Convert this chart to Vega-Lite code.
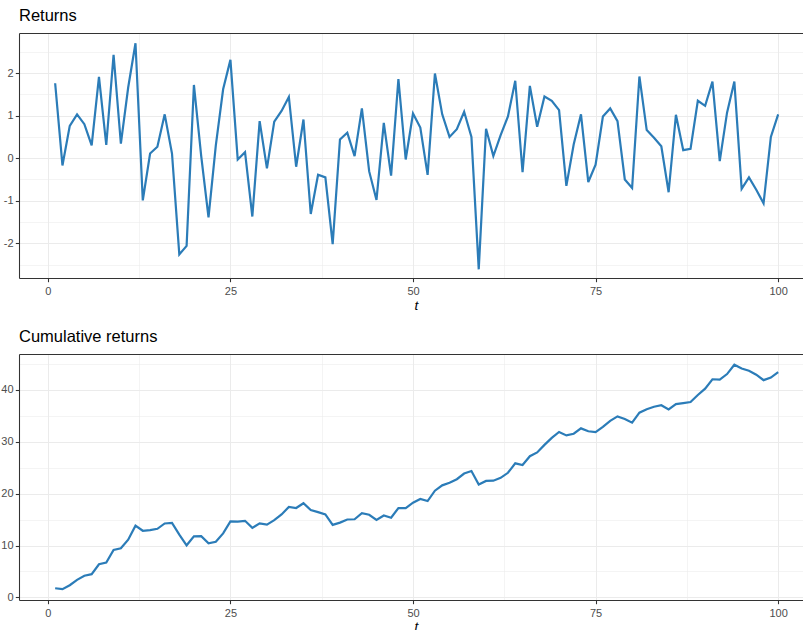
{
  "$schema": "https://vega.github.io/schema/vega-lite/v6.json",
  "padding": {"left": 0, "top": 7, "right": 0, "bottom": 0},
  "spacing": 15,
  "config": {
    "font": "Liberation Sans",
    "view": {"stroke": null},
    "axis": {
      "labelFont": "Liberation Sans",
      "labelFontSize": 11,
      "labelColor": "#4D4D4D",
      "tickColor": "#333333",
      "tickSize": 3.7,
      "tickWidth": 1.07,
      "labelPadding": 2.2,
      "domainColor": "#333333",
      "domainWidth": 1.07,
      "gridColor": "#EBEBEB",
      "labelOverlap": false,
      "labelFlush": false,
      "labelBound": false,
      "titleFont": "Liberation Sans",
      "titleFontSize": 13.7,
      "titleFontWeight": "normal",
      "titleColor": "#000000"
    },
    "title": {"anchor": "start", "frame": "group", "fontSize": 16.5, "fontWeight": "normal", "color": "#000000", "font": "Liberation Sans", "baseline": "alphabetic", "offset": 9}
  },
  "datasets": {
    "d": [
      {"t": 1, "r": 1.76, "cum": 1.76}, {"t": 2, "r": -0.17, "cum": 1.59}, {"t": 3, "r": 0.76, "cum": 2.35}, {"t": 4, "r": 1.03, "cum": 3.38}, {"t": 5, "r": 0.80, "cum": 4.18},
      {"t": 6, "r": 0.30, "cum": 4.48}, {"t": 7, "r": 1.91, "cum": 6.39}, {"t": 8, "r": 0.31, "cum": 6.70}, {"t": 9, "r": 2.43, "cum": 9.13}, {"t": 10, "r": 0.34, "cum": 9.47},
      {"t": 11, "r": 1.66, "cum": 11.13}, {"t": 12, "r": 2.70, "cum": 13.83}, {"t": 13, "r": -0.99, "cum": 12.84}, {"t": 14, "r": 0.11, "cum": 12.95}, {"t": 15, "r": 0.27, "cum": 13.22},
      {"t": 16, "r": 1.03, "cum": 14.25}, {"t": 17, "r": 0.11, "cum": 14.36}, {"t": 18, "r": -2.26, "cum": 12.10}, {"t": 19, "r": -2.06, "cum": 10.04}, {"t": 20, "r": 1.72, "cum": 11.76},
      {"t": 21, "r": 0.05, "cum": 11.81}, {"t": 22, "r": -1.39, "cum": 10.42}, {"t": 23, "r": 0.30, "cum": 10.72}, {"t": 24, "r": 1.62, "cum": 12.34}, {"t": 25, "r": 2.31, "cum": 14.65},
      {"t": 26, "r": -0.03, "cum": 14.62}, {"t": 27, "r": 0.14, "cum": 14.76}, {"t": 28, "r": -1.37, "cum": 13.39}, {"t": 29, "r": 0.87, "cum": 14.26}, {"t": 30, "r": -0.24, "cum": 14.02},
      {"t": 31, "r": 0.86, "cum": 14.88}, {"t": 32, "r": 1.11, "cum": 15.99}, {"t": 33, "r": 1.44, "cum": 17.43}, {"t": 34, "r": -0.20, "cum": 17.23}, {"t": 35, "r": 0.91, "cum": 18.14},
      {"t": 36, "r": -1.31, "cum": 16.83}, {"t": 37, "r": -0.39, "cum": 16.44}, {"t": 38, "r": -0.45, "cum": 15.99}, {"t": 39, "r": -2.02, "cum": 13.97}, {"t": 40, "r": 0.44, "cum": 14.41},
      {"t": 41, "r": 0.60, "cum": 15.01}, {"t": 42, "r": 0.05, "cum": 15.06}, {"t": 43, "r": 1.17, "cum": 16.23}, {"t": 44, "r": -0.31, "cum": 15.92}, {"t": 45, "r": -0.98, "cum": 14.94},
      {"t": 46, "r": 0.83, "cum": 15.77}, {"t": 47, "r": -0.41, "cum": 15.36}, {"t": 48, "r": 1.86, "cum": 17.22}, {"t": 49, "r": -0.03, "cum": 17.19}, {"t": 50, "r": 1.05, "cum": 18.24},
      {"t": 51, "r": 0.72, "cum": 18.96}, {"t": 52, "r": -0.39, "cum": 18.57}, {"t": 53, "r": 1.99, "cum": 20.56}, {"t": 54, "r": 1.03, "cum": 21.59}, {"t": 55, "r": 0.50, "cum": 22.09},
      {"t": 56, "r": 0.68, "cum": 22.77}, {"t": 57, "r": 1.09, "cum": 23.86}, {"t": 58, "r": 0.50, "cum": 24.36}, {"t": 59, "r": -2.61, "cum": 21.75}, {"t": 60, "r": 0.69, "cum": 22.44},
      {"t": 61, "r": 0.05, "cum": 22.49}, {"t": 62, "r": 0.54, "cum": 23.03}, {"t": 63, "r": 0.98, "cum": 24.01}, {"t": 64, "r": 1.82, "cum": 25.83}, {"t": 65, "r": -0.33, "cum": 25.50},
      {"t": 66, "r": 1.70, "cum": 27.20}, {"t": 67, "r": 0.74, "cum": 27.94}, {"t": 68, "r": 1.45, "cum": 29.39}, {"t": 69, "r": 1.35, "cum": 30.74}, {"t": 70, "r": 1.13, "cum": 31.87},
      {"t": 71, "r": -0.65, "cum": 31.22}, {"t": 72, "r": 0.32, "cum": 31.54}, {"t": 73, "r": 1.03, "cum": 32.57}, {"t": 74, "r": -0.56, "cum": 32.01}, {"t": 75, "r": -0.15, "cum": 31.86},
      {"t": 76, "r": 0.98, "cum": 32.84}, {"t": 77, "r": 1.17, "cum": 34.01}, {"t": 78, "r": 0.87, "cum": 34.88}, {"t": 79, "r": -0.50, "cum": 34.38}, {"t": 80, "r": -0.70, "cum": 33.68},
      {"t": 81, "r": 1.92, "cum": 35.60}, {"t": 82, "r": 0.66, "cum": 36.26}, {"t": 83, "r": 0.48, "cum": 36.74}, {"t": 84, "r": 0.28, "cum": 37.02}, {"t": 85, "r": -0.80, "cum": 36.22},
      {"t": 86, "r": 1.02, "cum": 37.24}, {"t": 87, "r": 0.19, "cum": 37.43}, {"t": 88, "r": 0.22, "cum": 37.65}, {"t": 89, "r": 1.35, "cum": 39.00}, {"t": 90, "r": 1.23, "cum": 40.23},
      {"t": 91, "r": 1.80, "cum": 42.03}, {"t": 92, "r": -0.07, "cum": 41.96}, {"t": 93, "r": 1.07, "cum": 43.03}, {"t": 94, "r": 1.80, "cum": 44.83}, {"t": 95, "r": -0.72, "cum": 44.11},
      {"t": 96, "r": -0.45, "cum": 43.66}, {"t": 97, "r": -0.74, "cum": 42.92}, {"t": 98, "r": -1.06, "cum": 41.86}, {"t": 99, "r": 0.50, "cum": 42.36}, {"t": 100, "r": 1.03, "cum": 43.39}
    ]
  },
  "vconcat": [
    {
      "width": 784,
      "height": 245,
      "title": {"text": "Returns"},
      "data": {"name": "d"},
      "layer": [
        {
          "mark": {"type": "line", "color": "#2B7CB8", "strokeWidth": 2.2},
          "encoding": {
            "x": {
              "field": "t", "type": "quantitative",
              "scale": {"domain": [-3.95, 103.4], "nice": false, "zero": false},
              "axis": {
                "orient": "bottom",
                "values": [0, 12.5, 25, 37.5, 50, 62.5, 75, 87.5, 100],
                "labelExpr": "datum.value % 25 == 0 ? toString(datum.value) : ''",
                "tickOpacity": {"condition": {"test": "datum.value % 25 == 0", "value": 1}, "value": 0},
                "gridWidth": {"condition": {"test": "datum.value % 25 == 0", "value": 1.07}, "value": 0.55},
                "labelPadding": 4,
                "title": "t", "titleFontStyle": "italic", "titlePadding": 2, "titleX": 397
              }
            },
            "y": {
              "field": "r", "type": "quantitative",
              "scale": {"domain": [-2.814, 2.941], "nice": false, "zero": false},
              "axis": {
                "values": [-2.5, -2, -1.5, -1, -0.5, 0, 0.5, 1, 1.5, 2, 2.5],
                "labelExpr": "datum.value % 1 == 0 ? toString(datum.value) : ''",
                "tickOpacity": {"condition": {"test": "datum.value % 1 == 0", "value": 1}, "value": 0},
                "gridWidth": {"condition": {"test": "datum.value % 1 == 0", "value": 1.07}, "value": 0.55},
                "title": null
              }
            }
          }
        },
        {
          "mark": {"type": "point", "opacity": 0},
          "encoding": {
            "x": {
              "field": "t", "type": "quantitative",
              "scale": {"domain": [-3.95, 103.4], "nice": false, "zero": false},
              "axis": {"orient": "top", "labels": false, "ticks": false, "grid": false, "domain": true, "title": null}
            }
          }
        }
      ],
      "resolve": {"axis": {"x": "independent"}}
    },
    {
      "width": 784,
      "height": 246,
      "title": {"text": "Cumulative returns"},
      "data": {"name": "d"},
      "layer": [
        {
          "mark": {"type": "line", "color": "#2B7CB8", "strokeWidth": 2.2},
          "encoding": {
            "x": {
              "field": "t", "type": "quantitative",
              "scale": {"domain": [-3.95, 103.4], "nice": false, "zero": false},
              "axis": {
                "orient": "bottom",
                "values": [0, 12.5, 25, 37.5, 50, 62.5, 75, 87.5, 100],
                "labelExpr": "datum.value % 25 == 0 ? toString(datum.value) : ''",
                "tickOpacity": {"condition": {"test": "datum.value % 25 == 0", "value": 1}, "value": 0},
                "gridWidth": {"condition": {"test": "datum.value % 25 == 0", "value": 1.07}, "value": 0.55},
                "labelPadding": 4,
                "title": "t", "titleFontStyle": "italic", "titlePadding": 1, "titleX": 397
              }
            },
            "y": {
              "field": "cum", "type": "quantitative",
              "scale": {"domain": [-0.5, 46.9], "nice": false, "zero": false},
              "axis": {
                "values": [0, 5, 10, 15, 20, 25, 30, 35, 40, 45],
                "labelExpr": "datum.value % 10 == 0 ? toString(datum.value) : ''",
                "tickOpacity": {"condition": {"test": "datum.value % 10 == 0", "value": 1}, "value": 0},
                "gridWidth": {"condition": {"test": "datum.value % 10 == 0", "value": 1.07}, "value": 0.55},
                "title": null
              }
            }
          }
        },
        {
          "mark": {"type": "point", "opacity": 0},
          "encoding": {
            "x": {
              "field": "t", "type": "quantitative",
              "scale": {"domain": [-3.95, 103.4], "nice": false, "zero": false},
              "axis": {"orient": "top", "labels": false, "ticks": false, "grid": false, "domain": true, "title": null}
            }
          }
        }
      ],
      "resolve": {"axis": {"x": "independent"}}
    }
  ]
}
